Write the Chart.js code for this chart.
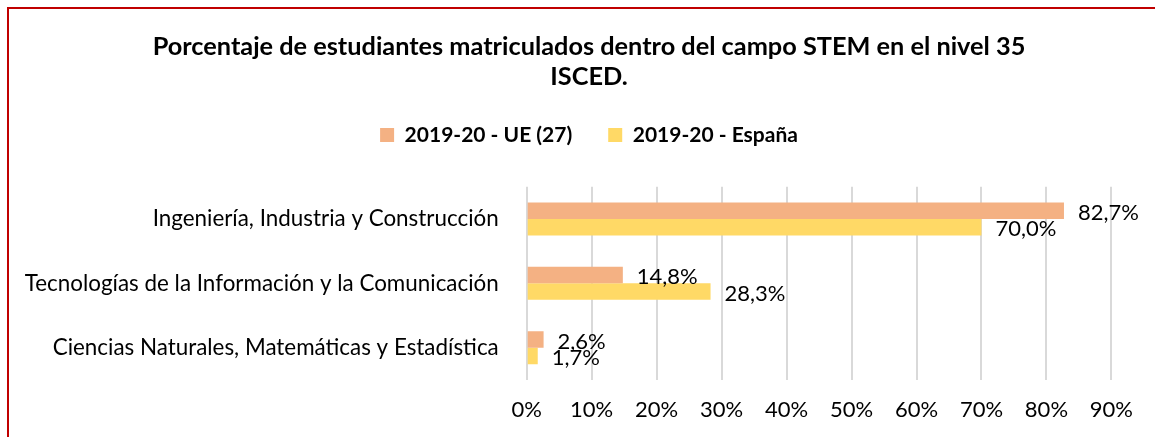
<!DOCTYPE html>
<html lang="es">
<head>
<meta charset="utf-8">
<title>Porcentaje de estudiantes STEM</title>
<script src="https://cdn.jsdelivr.net/npm/chart.js@4.4.1/dist/chart.umd.min.js"></script>
<style>
  html, body { margin: 0; padding: 0; background: #fff; overflow: hidden; }
  .marco {
    position: absolute; left: 7px; top: 7px;
    width: 1200px; height: 500px;
    border: 2px solid #c00000;
  }
  #grafico { position: absolute; left: 0; top: 0; }
</style>
</head>
<body>
<div class="marco"></div>
<canvas id="grafico" width="1178" height="440"></canvas>
<script>
// datos del gráfico
const categorias = [
  "Ingeniería, Industria y Construcción",
  "Tecnologías de la Información y la Comunicación",
  "Ciencias Naturales, Matemáticas y Estadística"
];
const series = ["2019-20 - UE (27)", "2019-20 - España"];
const ue27 = [82.7, 14.8, 2.6];
const espana = [70.0, 28.3, 1.7];
const maxEje = 90;
const pasoEje = 10;

const fuente = "Lato";

// etiquetas de valor al final de cada barra
const etiquetasBarras = {
  id: "etiquetasBarras",
  afterDatasetsDraw(chart) {
    const { ctx } = chart;
    ctx.save();
    ctx.font = `22px ${fuente}`;
    ctx.fillStyle = "#000";
    ctx.textBaseline = "middle";
    ctx.textAlign = "left";
    chart.data.datasets.forEach((ds, i) => {
      chart.getDatasetMeta(i).data.forEach((bar, j) => {
        const texto = ds.data[j].toFixed(1).replace(".", ",") + "%";
        ctx.fillText(texto, bar.x + 14, bar.y + 2);
      });
    });
    ctx.restore();
  }
};

// espacio extra bajo la leyenda
const espacioLeyenda = {
  id: "espacioLeyenda",
  beforeInit(chart) {
    const fit = chart.legend.fit;
    chart.legend.fit = function () {
      fit.call(this);
      this.height += 31.2;
    };
  }
};

new Chart(document.getElementById("grafico"), {
  type: "bar",
  data: {
    labels: categorias,
    datasets: [
      { label: series[0], data: ue27, backgroundColor: "#f4b183" },
      { label: series[1], data: espana, backgroundColor: "#ffd966" }
    ]
  },
  options: {
    indexAxis: "y",
    responsive: false,
    animation: false,
    devicePixelRatio: 1,
    categoryPercentage: 0.512,
    barPercentage: 1,
    layout: { padding: 0 },
    plugins: {
      title: {
        display: true,
        text: [
          "Porcentaje de estudiantes matriculados dentro del campo STEM en el nivel 35",
          "ISCED."
        ],
        color: "#000",
        font: { family: fuente, size: 25.3, weight: "bold", lineHeight: 30 / 25.3 },
        padding: { top: 32, bottom: -3.5 }
      },
      legend: {
        display: true,
        labels: {
          color: "#000",
          font: { family: fuente, size: 21, weight: "bold" },
          boxWidth: 14,
          boxHeight: 14,
          padding: 36
        }
      },
      tooltip: { enabled: false }
    },
    scales: {
      x: {
        min: 0,
        max: maxEje,
        afterFit(scale) { scale.paddingRight = 66.6; },
        ticks: {
          stepSize: pasoEje,
          color: "#000",
          font: { family: fuente, size: 22 },
          padding: 16.8,
          callback: (v) => v + "%"
        },
        grid: { color: "#d9d9d9", lineWidth: 2, drawTicks: false },
        border: { display: false }
      },
      y: {
        afterFit(scale) { scale.width = 526.7; },
        ticks: {
          color: "#000",
          font: { family: fuente, size: 22.4 },
          padding: 28
        },
        grid: { display: false, drawTicks: false },
        border: { display: false }
      }
    }
  },
  plugins: [etiquetasBarras, espacioLeyenda]
});
</script>
</body>
</html>
